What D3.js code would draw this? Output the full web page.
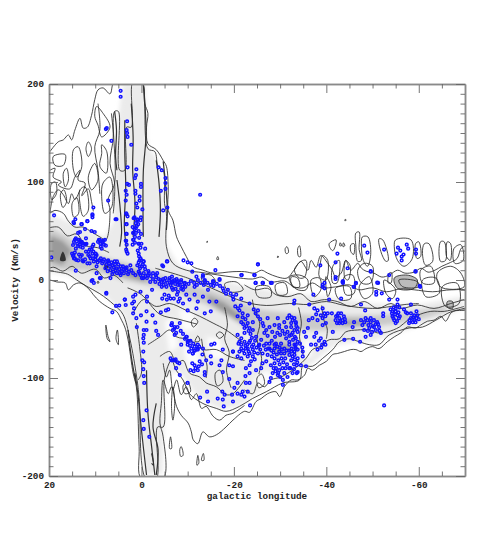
<!DOCTYPE html>
<html>
<head>
<meta charset="utf-8">
<script src="https://cdn.jsdelivr.net/npm/d3@7"></script>
<style>
body { margin: 0; background: #fff; }
text { font-family: "Liberation Mono", monospace; font-weight: bold; font-size: 9.3px; fill: #222; }
</style>
</head>
<body>
<svg id="chart" width="490" height="560"></svg>
<script>
// axis values
const xMajor = [20, 0, -20, -40, -60];
const xMinor = [15, 10, 5, -5, -10, -15, -25, -30, -35, -45, -50, -55, -65];
const yMajor = [200, 100, 0, -100, -200];
const yMinor = [190, 180, 170, 160, 150, 140, 130, 120, 110, 90, 80, 70, 60, 50, 40, 30, 20, 10,
    -10, -20, -30, -40, -50, -60, -70, -80, -90, -110, -120, -130, -140, -150, -160, -170, -180, -190];

// grey emission, [longitude, velocity]
const greyLight = [[20,68],[16,60],[12,52],[8,44],[6,60],[5.5,150],[4,200],[-0.7,200],[-1.4,135],[-3.2,125],[-5,75],[-5.5,35],[-8,15],[-14,4],[-22,-6],[-32,-14],[-40,-17],[-50,-24],[-60,-25],[-69,-17],[-70,-28],[-64,-40],[-58,-50],[-50,-62],[-42,-66],[-37,-85],[-32,-98],[-26,-112],[-21,-129],[-17,-132],[-12,-118],[-8,-92],[-5,-100],[-4.6,-198],[-0.5,-198],[0.6,-118],[2.4,-60],[4,-35],[8,-15],[12,-6],[16,5],[20,8]];
const greyMid = [[20,54],[16,44],[12,30],[7,22],[2,16],[-4,6],[-10,-3],[-16,-12],[-21,-22],[-26,-30],[-32,-34],[-38,-36],[-44,-36],[-50,-36],[-56,-34],[-62,-30],[-66,-27],[-66,-32],[-62,-38],[-56,-44],[-50,-48],[-44,-50],[-38,-52],[-33,-50],[-34,-75],[-30,-80],[-26,-70],[-24,-55],[-20,-40],[-14,-25],[-8,-14],[-2,-6],[4,0],[8,6],[12,10],[16,10],[20,12]];
const greyDark = [
    [[20,46],[17,40],[15,30],[17,15],[20,20]],
    [[8,18],[4,13],[-1,5],[-1,-2],[4,4],[8,10]],
    [[-14,-15],[-18,-23],[-22,-38],[-23,-46],[-20,-40],[-15,-24]],
    [[-42,-41],[-46,-41],[-51,-42],[-50,-46],[-44,-46]],
    [[-28,-64],[-32,-67],[-33,-74],[-29,-74]]
];
const greyBlack = [
    [[17,29],[16.4,20],[17.6,20]],
    [[8,16],[7,14],[7.8,11]]
];
const greyWhite = [
    [[-5,-42],[-7,-38],[-8,-68],[-6,-74]],
    [[-9,-68],[-12,-70],[-13,-95],[-10,-95]],
    [[-14,-58],[-17,-60],[-18,-80],[-15,-80]],
    [[-8,-30],[-11,-32],[-12,-50],[-9,-52]],
    [[-27,-92],[-30,-102],[-26,-112],[-24,-102]],
    [[-35,-60],[-37,-62],[-37,-78],[-35,-80]]
];
const greyLoops = [
    [[-55.7,0],[-59.7,-1.7],[-60,-6.8],[-56.5,-6.8]],
    [[-66.2,-22],[-67.3,-22],[-67.3,-29],[-66.2,-28]],
    [[-54.7,2],[-57.5,5],[-59.7,0],[-59,-8.5],[-55.4,-8.5]]
];

// contour lines
const contourOuter = [[19.8,131],[18,141],[16.9,143],[15.8,148],[15.1,143],[14.4,153],[13.3,165],[12.6,155],[11.7,156],[10.8,168],[10.1,184],[9.4,194],[8.3,196],[6.8,190],[5.8,203],[0,203],[-0.7,180],[-1.4,170],[-1.1,156],[-1.4,139],[-3.2,133],[-4.7,122],[-5.4,116],[-5.8,95],[-5.8,71],[-6.8,61],[-7.6,44],[-8.6,34],[-9.7,24],[-11,14],[-13.3,10],[-15.5,7],[-19.8,8.5],[-22.3,8.5],[-24.5,7],[-26,10],[-27.3,7],[-29.5,3],[-31.5,2],[-33,10],[-34.5,19],[-36,10],[-36.7,20],[-37.8,13],[-38.8,25],[-40.3,17],[-41.3,10],[-42,3],[-43.2,7],[-44.2,20],[-45.3,10],[-46.8,17],[-47.6,12],[-48.6,9],[-50.3,7],[-52,3],[-53.6,5],[-55.4,10],[-57,7],[-59,8],[-60.5,12],[-62,8],[-63.5,10],[-65,14],[-66.9,18],[-68.3,22],[-69.3,33],[-71,34],[-71,-28],[-69.8,-29],[-67.5,-32],[-66.9,-34],[-65.8,-42],[-64.8,-37],[-63.3,-41],[-61.9,-42],[-60.4,-46],[-59.3,-49],[-57.5,-48],[-56.1,-54],[-54.7,-58],[-53.2,-63],[-51.4,-70],[-50,-68],[-48.6,-70],[-47.5,-73],[-46.4,-71],[-45.3,-71],[-43.9,-73],[-42.4,-75],[-41.4,-76],[-40,-83],[-38.5,-87],[-37,-92],[-36,-90],[-35.3,-97],[-33.8,-102],[-32.4,-102],[-30.9,-109],[-29.9,-119],[-29.1,-114],[-27.3,-116],[-25.9,-121],[-24.8,-124],[-23.4,-135],[-22.3,-134],[-19.8,-143],[-18.3,-150],[-16.2,-158],[-14.7,-160],[-13.3,-155],[-12.2,-167],[-11.2,-163],[-10.8,-155],[-10.1,-146],[-8.6,-138],[-7.6,-129],[-6.5,-109],[-5.8,-116],[-4.7,-102],[-4.3,-126],[-4,-146],[-4.7,-160],[-4.7,-203],[0,-203],[0.5,-170],[1.1,-109],[1.8,-95],[2.9,-61],[3.6,-48],[4.3,-41],[5.4,-32],[6.8,-29],[9,-22],[10.4,-15],[11.5,-8.5],[13.3,-3],[14.7,-5],[15.8,-10],[16.5,-3],[18.3,-2],[19.8,0],[21,0]];
const contourSecond = [[21,68],[20,68],[18.7,71],[16.9,68],[15.8,60],[14.4,54],[12.6,54],[10.8,49],[9,44],[7.7,41],[6.8,71],[7.2,82],[5.8,99],[5.8,172],[5,172],[4.7,112],[3.6,112],[3.2,156],[2.2,156],[1.8,203],[0,203],[-1.4,134],[-2.9,131],[-3.6,116],[-4.7,112],[-5,78],[-5.4,68],[-5.4,34],[-6.8,17],[-9.7,10],[-13.3,7.5],[-19.8,3],[-24,1],[-26,3],[-28,-2],[-31,-1],[-33,-7],[-35,-8],[-37,-3],[-39,-8],[-42,-7],[-45,-5],[-47,-10],[-50,-8],[-53,-12],[-56,-9],[-59,-10],[-63,-12],[-67,-10],[-71,-12],[-71,-29],[-67.2,-32],[-63.7,-41],[-60.8,-48],[-57.9,-49],[-53.6,-56],[-51.4,-66],[-49.3,-66],[-47.1,-63],[-45,-60],[-42.8,-63],[-41.4,-71],[-39.2,-80],[-37,-88],[-34.9,-88],[-34.2,-102],[-30.6,-105],[-27,-114],[-24,-121],[-21.2,-129],[-18.3,-134],[-16.2,-131],[-13.3,-126],[-10.4,-116],[-9,-102],[-7.5,-92],[-6.5,-82],[-5,-100],[-4.7,-150],[-3.5,-150],[-3.2,-203],[-1,-203],[0.5,-120],[1,-100],[2.5,-60],[4,-35],[6,-25],[9,-14],[12,-6],[14,0],[16,6],[18,8],[21,10]];

// smaller open contour pieces
const contourPieces = [
    [[19.8,112],[18.7,114],[19.1,105],[17.3,100],[18,97],[15.5,93],[14.4,105],[13.3,112],[13.7,102],[12.2,99],[12.9,86],[11.5,93],[10.8,80],[10.4,70]],
    [[19.8,68],[19.1,85],[18,92],[16.9,87],[15.8,78],[15.1,88],[14.4,82],[13.3,92]],
    [[6.5,170],[6.1,146],[6.8,119],[5.8,99],[6.1,68]],
    [[9.4,180],[9,153],[10.1,136],[9.4,112],[9,88]],
    [[21,52],[18,54],[16,45],[14,47],[12,35],[9.5,33],[7,28]],
    [[21,10],[19,13],[17,9],[15,14],[13,7],[10,11],[8,2],[6,5],[4,-3]],
    [[-4.7,-85],[-5.4,-99],[-6.1,-92],[-6.8,-112],[-7.6,-102],[-8.6,-117],[-9.7,-109],[-10.8,-122],[-11.9,-116],[-13,-131],[-14,-129],[-15.5,-139],[-16.9,-143],[-18.3,-138],[-19.8,-136],[-22.3,-128]],
    [[-4,-78],[-6.1,-73],[-7.6,-85],[-9,-82],[-10.4,-95],[-12.6,-99],[-14,-105],[-16.2,-109],[-18.3,-117],[-19.8,-116],[-22.3,-102]],
    [[-1.4,-66],[-4,-58],[-6.1,-51],[-7.6,-58],[-10.4,-61],[-13.3,-71],[-16.2,-71],[-19,-78],[-22.3,-82]],
    [[1.8,-34],[-0.4,-20],[-3.2,-27],[-6.1,-24],[-9.7,-31],[-12.6,-37],[-15.5,-44],[-18.3,-51],[-22.3,-65]],
    [[-22.3,-112],[-24.1,-116],[-25.2,-105],[-26.6,-109],[-28,-102],[-30.2,-99],[-31.7,-95],[-33.8,-88],[-35.6,-80],[-37,-71],[-38.5,-68],[-40.6,-61],[-42.8,-60],[-44.2,-53],[-46.8,-51],[-49.3,-51],[-51.1,-54],[-53.2,-53],[-55.8,-48],[-57.6,-41],[-59.7,-36],[-62.6,-32],[-65.5,-32],[-68.3,-29],[-69.8,-27]],
    [[-22.3,-5],[-24.5,-10],[-27.3,-8.5],[-29.1,-15],[-31.7,-17],[-34.5,-14],[-36.7,-22],[-39.6,-20],[-42.4,-22],[-45.3,-27],[-48.2,-22],[-51.1,-29],[-54,-24],[-56.1,-29],[-59.7,-25.5],[-63.3,-29],[-66.9,-24],[-69.8,-20]],
    [[-3,12],[-10,2],[-16,-10],[-22,-22],[-27,-26],[-32,-24],[-36,-25],[-40,-22],[-44,-26],[-50,-29],[-54,-27],[-57,-25],[-60,-24]],
    [[3,-8],[0,-15],[-4,-35],[-8,-40],[-12,-45]],
    [[-24,-20],[-24.6,-34],[-25.6,-44],[-25,-60],[-26,-80],[-25.4,-96]],
    [[-34,-28],[-34.6,-44],[-34.2,-58],[-35,-76]],
    [[-39,-26],[-39.4,-40],[-40.2,-50],[-40,-60]],
    [[-18,-28],[-18.6,-46],[-18,-60],[-19,-74],[-18.4,-92],[-19.4,-110]],
    [[-13,-60],[-13.4,-72],[-14.2,-88],[-14,-100]],
    [[1.1,-44],[0.4,-68],[0,-95],[0.7,-102]]
];

// closed contour islands
const islands = [
    [[11.5,141],[10.8,134],[11.5,126],[12,134]],
    [[14.7,133],[13.7,136],[12.9,116],[14,105],[14.7,112]],
    [[9.7,177],[8.3,170],[6.8,156],[8.6,146],[9.4,158],[10.1,167]],
    [[8.6,138],[7.5,131],[7.6,109],[9,116],[8.6,129]],
    [[10.1,119],[9.4,102],[10.8,92],[11.5,105]],
    [[19.1,126],[16.5,128],[16.9,117],[18.7,117]],
    [[16.2,114],[15.8,102],[16.5,95],[16.9,109]],
    [[13.3,92],[12.2,95],[11.5,71],[12.6,65],[13.3,78]],
    [[8.3,99],[6.8,105],[6.4,75],[7.9,68],[8.6,85]],
    [[17.5,88],[16.8,92],[16.2,80],[17,74]],
    [[19.5,98],[18.6,100],[18.4,88],[19.4,82]],
    [[15,78],[14,84],[13.6,68],[14.6,64]],
    [[7.7,-46],[7.2,-58],[6.8,-63],[7.4,-60]],
    [[5.2,-51],[5,-66],[5.5,-60]],
    [[-6.3,-160],[-6.5,-172],[-6.1,-172]],
    [[-8.6,-170],[-9,-179],[-8.5,-180],[-8.3,-173]],
    [[-12.2,-179],[-12.4,-187],[-12,-189]],
    [[-13.4,-177],[-13.5,-184],[-13,-184]],
    [[-6.8,-109],[-7.2,-126],[-6.8,-143],[-6.5,-129]],
    [[-11.5,-39],[-12.2,-42.5],[-11.2,-48],[-10.8,-42.5]],
    [[-16.9,-53],[-17.8,-56],[-16.9,-59.5],[-16.2,-56]],
    [[-12.2,-57],[-12.6,-62],[-11.6,-63]],
    [[-16,-95],[-17,-92],[-17.6,-104],[-16.4,-108]],
    [[-9,-108],[-10,-104],[-10.6,-114],[-9.4,-116]],
    [[-25,-100],[-26,-96],[-26.6,-106],[-25.4,-110]],
    [[-31.5,34],[-31.8,28],[-31.3,27],[-31.1,32]],
    [[-34.2,35],[-34.4,24],[-34,24],[-33.8,32]],
    [[-40.6,37],[-42.1,41],[-41.9,34],[-41.4,30],[-40.9,32]],
    [[-43,38],[-43.3,35],[-42.9,35]],
    [[-43.7,38],[-44,35],[-43.6,34]],
    [[-46.4,48],[-47.1,49],[-47.1,31],[-47.6,20],[-46.8,19],[-46.4,34]],
    [[-45.3,36],[-46,37],[-45.9,26],[-45.3,29]],
    [[-47.8,44],[-49,44],[-49.6,26],[-48.9,14],[-48,20],[-47.6,34]],
    [[-51.4,42],[-52.2,41],[-53.4,20],[-52.9,19],[-51.8,29]],
    [[-55,41],[-58.3,41],[-58.6,22],[-56.8,14],[-55.4,20],[-54.7,34]],
    [[-59.3,37],[-60,39],[-60.4,24],[-59.6,22]],
    [[-61.2,37],[-62.2,37],[-63,19],[-61.5,15],[-60.8,27]],
    [[-64.7,39],[-65.5,39],[-65.8,20],[-64.7,19]],
    [[-66.2,39],[-66.9,37],[-66.8,20],[-66,24]],
    [[-67.6,32],[-69.1,36],[-69.6,20],[-67.8,17]],
    [[-34.5,19],[-35.6,20],[-35.3,3],[-34.2,2],[-33.1,10]],
    [[-39.2,25],[-40.3,20],[-39.9,0],[-38.5,3],[-38.7,17]],
    [[-41.4,14],[-42.8,20],[-42.3,-3],[-41.4,-3]],
    [[-44.2,20],[-45.2,14],[-44.7,0],[-44,2]],
    [[-46.8,10],[-48.2,17],[-50,14],[-49.6,-3],[-47.6,-3]],
    [[-53.6,7],[-54.1,7.5],[-54,-3],[-53.4,-3]],
    [[-54.7,2],[-57.5,5],[-59.7,0],[-59,-8.5],[-55.4,-8.5]],
    [[-60.4,10],[-62.6,14],[-63.3,-3],[-60.8,-3]],
    [[-64,7],[-66.9,14],[-69.1,7],[-69.8,-7],[-64.7,-7]],
    [[-32.4,3],[-33.8,2],[-34.2,-7],[-32.7,-7]],
    [[-32,3],[-34.2,5],[-36,0],[-35.6,-10],[-33.4,-9]],
    [[-36.7,0],[-38.5,2],[-38.8,-10],[-37.4,-17]],
    [[-39.9,3.4],[-41,-7],[-40.3,-17]],
    [[-43.9,3.4],[-45.7,5],[-46,-13.6],[-44.2,-15]],
    [[-47.1,-7],[-49.3,3.4],[-50,-13.6],[-48.2,-19]],
    [[-52.5,0],[-55,-10],[-54.3,-19],[-52.9,-13.6]],
    [[-55.7,0],[-59.7,-1.7],[-60,-6.8],[-56.5,-6.8]],
    [[-60.8,0],[-63.7,2],[-64.4,-13.6],[-61.5,-17]],
    [[-65.1,-6.8],[-68.3,-3.4],[-68.7,-24],[-65.8,-27]],
    [[-66.2,-22],[-67.3,-22],[-67.3,-29],[-66.2,-28]],
    [[-42,-8.5],[-45,-6.8],[-45.3,-18.7],[-42.8,-20]],
    [[-24.8,-7],[-27.7,-7],[-28,-17],[-25.2,-17]],
    [[-18,-4],[-20.5,-2],[-22,-10],[-19,-12]],
    [[-13,4],[-15,5],[-16,-2],[-13.5,-3]],
    [[-29,-5],[-31,-3],[-31.5,-14],[-29.5,-15]],
    [[-44.1,62],[-44.3,61],[-44,60.5]],
    [[-29.5,24.5],[-29.7,23.5],[-29.4,23]],
    [[-14.2,39.5],[-14.4,39],[-14.1,38.5]],
    [[-16.5,24],[-16.7,21],[-16.3,21]],
    [[9.4,-1],[9.6,-3],[9.2,-3]]
];

// dark vertical streaks near l=0
const streaks = [
    [[5.8,172],[5.4,153],[5.6,126],[5.3,112]],
    [[3.6,163],[3.6,129],[3.4,95],[3.7,54],[3.2,31]],
    [[2.2,180],[1.8,146],[1.9,112],[1.4,78],[1.8,44]],
    [[5.3,102],[4.7,78],[4.3,48],[4.7,34]],
    [[-4.7,121],[-5.2,99],[-5.6,71],[-5.4,51]],
    [[-3.2,122],[-3.8,99],[-4.1,71],[-3.8,44]],
    [[-0.4,200],[-1,150],[-0.4,110],[-0.4,44]],
    [[1.4,-95],[0.7,-119],[0,-153],[-1.1,-199]],
    [[-1.1,-92],[-1.4,-136],[-2.2,-170],[-2.9,-199]],
    [[2.9,-51],[2.2,-78],[1.2,-105]],
    [[-3.2,-126],[-2.5,-150],[-3.6,-173],[-3.2,-199]],
    [[-2.2,-177],[-2.6,-189],[-2.2,-187]]
];

// catalogue sources, [longitude, velocity]
const pointsUpper = [[4.5,193],[4.5,187],[7.7,154],[7.5,155],[6.5,142],[3.1,162],[3.2,153],[3.1,150],[3,146],[2.2,138],[3,115],[1.1,113],[1.2,107],[1.4,104],[3.1,98],[2.7,97],[0.1,98],[0.1,95],[3.4,91],[3.2,87],[1.3,91],[1.3,88],[0.4,85],[0.4,81],[3.4,81],[1.1,78],[0.9,74],[-0.2,72],[-3.7,115],[-4.4,112],[-5.2,104],[-5.2,99],[-5.2,93],[-4.2,91],[-5.6,74],[-4.7,71],[-12.7,87],[7.2,81],[10.4,74],[10.6,67],[10.6,64],[18.9,66],[14.3,62],[14.7,59],[11.7,60],[12.9,57],[5.4,62],[3.2,67],[3,65],[3.2,57],[1.5,64],[0.9,62],[0.1,64],[1.2,58],[0.7,57],[1.9,54],[1.2,53],[3.2,47],[1.8,48],[1.4,44],[3.4,40],[1.8,41],[3.2,36],[1.9,36],[0.5,37],[0,37],[-0.8,32],[3.2,29],[3,27]];
const pointsLeft = [[19.5,23],[13.3,49],[13.7,48],[12.2,52],[10.8,50],[10.1,49],[14.4,41],[13.7,41],[12.9,39],[12,42.5],[11.9,37],[13.3,36],[9,41],[8.4,38],[7.9,41],[10.4,36],[11.2,31],[12,29],[10.4,29],[9.7,25.5],[14.7,25.5],[14.4,22],[13.7,20],[12.9,25.5],[12.6,19],[11.2,17],[9.7,14],[9,20],[8.3,19],[7.2,20],[6.8,14],[5.8,19],[5.4,12],[4,14],[3.2,10],[4.7,7],[6.1,8.5],[10.8,-1],[9,2],[14.2,9.5],[9.7,7],[0.4,20],[-0.4,19],[0.4,14],[-0.7,14],[-4.7,14],[-5.6,19],[-9.1,20],[-10,18],[-10.8,17],[-11,8.5],[-16,10],[-21.7,5],[-13.7,-1],[-15.5,-1],[-16.9,1],[-11.9,3.4],[-13.3,3.4],[0.4,7],[-0.4,2],[-1.4,5],[-2.5,7],[-3.2,3],[-4.7,1],[-6.1,2],[-6.8,-1],[-7.6,1],[-8.6,-2],[-9.4,-3],
    [14.6,39],[13.9,37],[13.2,39],[12.4,37],[12.1,36],[13.2,34],[14.2,32],[10.6,34],[9.2,41],[8.5,39],[8.1,36],[8.8,34],[15,27],[14.6,22],[13.5,26],[12.8,20],[11.4,29],[10.6,27],[9.9,24],[11,22],[10.3,19],[11.7,17],[9.2,20],[8.5,17],[7.4,19],[6.3,15],[5.3,19],[4.5,14],[6.7,10],[7.8,12],[3.5,12],[2.7,8.5],[5.6,10],[3.8,7],[4.5,5],[2.4,15],[10.6,0],[10.3,-3],[8.8,2],[6.7,2],[0.6,27],[0.2,22],[-0.5,19],[0.9,15],[-0.1,14],[0.6,8.5],[-0.5,7],[1.3,5],[-1.2,2],[-1.9,-2],[-0.1,2],[-3,-2],[-4.1,0],[-5.2,2],[-6.6,3.4],[-4.8,-5],[-6.3,-5],[-7.7,-2],[-3.4,7],[-1.6,7],[-5.5,19],[-4.5,15],[-4.5,-19],[-5.5,-20],[-6.3,-19],[-7.7,-15],[-2.3,-10],[-1.2,-17],[-1.2,-22],[0.2,-12],[1.3,-15],[2,-24],[3.6,-20],[7.6,-13],[10.6,66],[14.6,58],[11.7,60],[13,57],[5.6,62],[3.3,68],[3.3,57],[3.3,47],[3.3,40],[3.3,31],[1.7,63],[0.9,61],[0.2,61],[1.7,48],[1.7,41],[0.6,37]];
const pointsDiagonal = [[-6.5,-3],[-7.2,0],[-7.9,-5],[-8.6,0],[-9.3,-3.4],[-6.8,-10],[-7.9,-12],[-9,-10],[-9.7,-15],[-8.3,-19],[-9,-24],[-10,-31],[-11.5,-7],[-12.2,0],[-13.3,5],[-13.7,0],[-14.4,-10],[-15.5,-2],[-16.9,0],[-17.6,-8.5],[-18.3,-14],[-11.5,-15],[-10.4,-20],[-12.2,-22],[-13.3,-17],[-14.7,-22],[-16.2,-22],[-11.9,-29],[-13.7,-34],[-15,-32],[-19.8,-17],[-20.5,-15],[-21.6,-19],[-21.2,-31],[-21.9,-34],[-23,-36],[-20.8,-37],[-21.6,-43],[-23,-44],[-22.3,-49],[-23.4,-49],[-24.1,-43],[-25.2,-31],[-23.4,-24],[-21.6,5],[-24.4,5],[-24.7,-3],[-26.2,-3],[-28,-3],[-25.2,16],[-26.2,-44],[-27.3,-39],[-27.7,-48],[-27,-51],[-28.8,-46],[-29.8,-46],[-29.5,-39],[-30.9,-43],[-31.6,-39],[-32.7,-41],[-31.3,-48],[-32.4,-48],[-33.4,-44],[-33.8,-53],[-33,-24],[-31.3,-59.5],[-29.8,-49],[-20.8,-56],[-21.6,-59.5],[-22.3,-63],[-21.6,-66],[-23,-70],[-21.2,-73],[-24.8,-58],[-25.9,-61],[-26.6,-54],[-27.7,-65],[-29.1,-65],[-28.8,-70],[-30.2,-65],[-30.9,-70],[-32,-66],[-33.4,-66],[-33.8,-71],[-29.8,-73],[-24.1,-71],[-26.2,-75],[-27.3,-76.5],[-6.5,-46],[-7.2,-48],[-7.5,-54],[-9.7,-58],[-10,-66],[-11.5,-68],[-11.1,-75],[-15,-78],[-17.6,-71],[-19.8,-73]];
const pointsLower = [[-8.6,-66],[-10,-63],[-10.8,-70],[-11.1,-75],[-12.2,-71],[-13.3,-70],[-6.5,-82],[-7.2,-82],[-7.5,-90],[-8.3,-97],[-10,-105],[-11.5,-87],[-12.6,-83],[-14,-82],[-15.1,-85],[-12.2,-92],[-13.7,-94],[-13.7,-97],[-14.2,-114],[-12.7,-120],[-14.4,-124],[-16.5,-121],[-17.6,-122],[-17.5,-114],[-18,-117],[-17.8,-129],[-19.6,-117],[-19.8,-124],[-20.1,-110],[-20.8,-105],[-20.8,-116],[-21.9,-114],[-23,-114],[-22.3,-119],[-21.6,-117],[-23.5,-128],[-19,-101],[-22.6,-105],[-23.4,-105],[-22.5,-98],[-23.4,-95],[-24.8,-92],[-22.6,-90],[-23.4,-87],[-17.3,-82],[-16.9,-87],[-17.6,-94],[-15.1,-66],[-15.8,-65],[-12.2,-66],[-19,-87],[-19.8,-88],[-20.8,-78],[-21.6,-80],[-21.2,-63],[-22.6,-70],[-23.4,-75],[-23.7,-83],[-22.3,-75],[-19.8,-73],[-26.2,-85],[-27,-83],[-25.9,-90],[-28,-87],[-28.8,-85],[-29.1,-90],[-29.8,-92],[-28.4,-95],[-28,-100],[-29.5,-97],[-30.6,-102],[-30.6,-107],[-30.9,-95],[-32,-90],[-31.6,-99],[-32.7,-95],[-33.8,-94],[-27.7,-104],[-30.2,-75],[-30.9,-75],[-32,-76.5],[-33.1,-73],[-33.8,-80],[-25.2,-75],[-28.8,-66],[-27,-65],[-25.5,-66]];
const pointsRight = [[-32,-36],[-33.1,-39],[-32.4,-44],[-33.4,-43],[-33.1,-51],[-33.8,-49],[-32.4,-56],[-33.4,-59.5],[-32,-63],[-33.1,-66],[-32.4,-73],[-33.1,-76.5],[-32.2,-90],[-33.6,-95],[-34.9,-73],[-34.9,-78],[-34.5,-87],[-35.6,-88],[-35.2,-53],[-36,-49],[-35.6,-58],[-37,-39],[-38.1,-41],[-39.2,-39],[-38.1,-31],[-39.2,-29],[-36.3,-25],[-37.4,-29],[-33.1,-21],[-37.2,-15],[-39.2,-5],[-39.6,-8.5],[-42,3],[-43.5,-2],[-46,-7],[-46.4,-3.4],[-40.6,-20],[-43.2,-19],[-41.2,-34],[-42.4,-36],[-43.2,-34],[-42.8,-39],[-43.5,-41],[-42,-41],[-42.8,-44],[-43.5,-44],[-39.6,-34],[-40.3,-34],[-39.9,-44],[-41.4,-53],[-39.2,-46],[-38.8,-59.5],[-39.6,-63],[-37.8,-54],[-37.4,-58],[-36.7,-66],[-38.1,-71],[-39.8,-66],[-43.9,-61],[-45.8,-60],[-47.3,-63],[-45.7,-48],[-46,-43],[-47.5,-25],[-48.4,-31],[-47.5,-41],[-47.8,-46],[-48.5,-39],[-48.2,-51],[-49.3,-49],[-49.6,-43],[-50.3,-41],[-51,-43],[-50.3,-48],[-51.4,-48],[-50.7,-51],[-49.6,-56],[-48.5,-58],[-51.8,-54],[-48.2,-43],[-49.1,-46],[-52.3,-34],[-52.3,-37],[-50.8,-15],[-50.8,-12],[-52,-13.6],[-51,-2.7],[-49.6,8.5],[-53.6,-20],[-55.4,-20],[-55.4,-25],[-55,-29],[-54.3,-32],[-55,-32],[-54.3,-37],[-55.4,-36],[-54.7,-41],[-55.7,-39],[-55,-44],[-56.8,-30],[-57.5,-34],[-58.3,-34],[-59,-36],[-59.7,-36],[-58.3,-39],[-59,-41],[-59.3,-43],[-57.9,-44],[-58.3,-25],[-60.2,-6],[-59.3,8.5],[-53.6,5]];
const pointsTopRight = [[-25.2,16],[-24.5,5],[-24.7,-3],[-26.3,-3],[-28.2,-3],[-38.7,15],[-42.4,27],[-42,18],[-44.6,12],[-49.6,9],[-48.2,35],[-48.9,28],[-52.5,31],[-55.5,33],[-56,30],[-55.2,27],[-56.7,26],[-56.3,24],[-56.3,20],[-57.4,36],[-57.7,32],[-59.4,31],[-59.4,27],[-59.3,9],[-39.6,-3],[-39.2,-7],[-42,1],[-43.6,-1],[-43.6,-3],[-46.4,-3],[-45.9,-7],[-51.2,-3],[-60.3,-7],[-52.5,-128]];
const pointsSpike = [[7.6,-14],[5.5,-26.5],[4.8,-26],[3.6,-20],[3.4,-25.5],[6.3,-33],[1.8,-17],[1.6,-22],[1.6,-29],[1.8,-34],[1.1,-39],[0.1,-36],[-1.1,-32],[-1.1,-42.5],[-3,-43.5],[-2.4,-36],[-4.2,-33],[-5.3,-31],[-5.8,-30],[1,-48],[-0.5,-51],[-1.1,-51],[-3.2,-52],[-3.6,-56],[-0.5,-56],[-0.4,-59.5],[-0.5,-64],[-0.4,-73],[-0.2,-82],[-0.6,-84],[-0.4,-91],[-0.5,-98],[-0.6,-105],[-1.1,-133],[-0.4,-143],[-0.5,-152],[-1.7,-160],[-6.5,-46],[-6.8,-51],[-7.2,-56],[-8.3,-44]];
// the densest clumps, read a second time
const pointsClumpA = [[14.2,42.5],[13.5,41],[12.8,37.4],[14.8,35.7],[13.7,34.7],[12.7,33],[14.4,28],[14.8,24.4],[14.1,20.4],[13.2,23.8],[12.2,21],[11.5,25.5],[10.8,31],[9.9,27],[9.4,39],[8.9,37],[8.3,40],[8.6,32],[7.7,35],[11.2,24],[10.5,22],[10,21],[9.5,18],[8.8,22],[8.1,21],[7.6,16],[7,17],[6.5,18],[6,13],[5.7,16],[5,16],[4.8,11],[4.2,9],[3.9,11],[3.2,13],[2.9,6],[2.2,10],[1.8,7],[7.3,9],[6.3,6],[5.3,7],[1,55],[0.6,50],[1.2,48],[0.1,47],[0.5,43],[1.4,38],[0.8,30],[0.2,33],[1.5,52]];
const pointsClumpB = [[0.5,24],[0,20],[-0.3,16],[0.6,18],[0.3,12],[-0.8,11],[0.2,5],[-0.9,4],[-1.5,9],[-2,4],[-2.5,1],[-3.1,5],[-3.7,1],[-4.3,-2],[-5,-1],[-5.6,-3],[-6,0],[-6.7,-2],[-7.3,-4],[-7.9,-1],[-8.3,-5],[-8.9,-7],[-3.9,-4],[-4.4,-7],[-5.4,-7],[-6.6,-8],[-7.4,-9],[-8.6,-9],[-9.5,-7],[-10.2,-4],[-10.7,-1],[-11.4,-3],[-12,-5],[-12.8,-3],[-13.5,-5],[-14.3,-3],[-15,-5],[-15.6,-6],[-16.3,-4],[-17,-6],[-17.8,-11],[-18.7,-10],[-19.3,-14],[-19.9,-20],[-5,-15],[-5.9,-16],[-7,-19],[-8,-22]];
const pointsClumpC = [[-20.3,-27],[-20.9,-29],[-21.5,-26],[-21.9,-38],[-22.5,-40],[-22,-45],[-22.7,-47],[-23.2,-52],[-22.3,-54],[-23.6,-55],[-24.1,-51],[-23.9,-59],[-24.6,-62],[-23.5,-62],[-24.2,-66],[-24.9,-69],[-25.4,-67],[-22.5,-67],[-23.2,-73],[-24.4,-74],[-25.7,-71],[-26.5,-67],[-26.9,-71],[-27.4,-70],[-28.2,-62],[-28.9,-58],[-29.4,-54],[-30,-56],[-30.5,-52],[-31,-55],[-31.6,-53],[-32,-57],[-32.7,-54],[-33.2,-58],[-28.3,-53],[-27.3,-57],[-26.4,-47],[-25.7,-40],[-25.2,-37],[-24.7,-34],[-24.3,-30],[-29.4,-68],[-29.9,-69],[-30.4,-71],[-31.4,-72],[-31.9,-72],[-32.5,-70],[-33.3,-69]];
const pointsClumpD = [[-21,-65],[-21.6,-70],[-22,-72],[-22.9,-66],[-23.3,-64],[-23.9,-68],[-23,-78],[-24.1,-78],[-24.5,-81],[-27.7,-70],[-28.1,-72],[-28.6,-74],[-28.2,-78],[-28.8,-80],[-29.3,-76],[-29.6,-82],[-29.9,-86],[-30.3,-80],[-30.7,-84],[-31.1,-80],[-31.5,-86],[-31.2,-90],[-30.5,-90],[-29.6,-95],[-30,-99],[-29,-93],[-28.6,-90],[-32.4,-82],[-33,-86],[-33.6,-87],[-33,-91],[-6.6,-44],[-7.1,-50],[-7.8,-48],[-8.5,-52],[-9,-55],[-9.4,-60],[-10.6,-62],[-11.4,-72],[-10.3,-73],[-9.8,-58],[-10.2,-62],[-10.5,-67],[-11.2,-65],[-11.6,-72],[-12.1,-70],[-12.5,-68],[-13.2,-76],[-11,-85],[-11.7,-90],[-12.4,-88],[-13.1,-86],[-10.6,-92],[-11.3,-93],[-6.3,-80],[-6.9,-82],[-7.4,-81],[-7.8,-84],[-8.2,-85]];
const pointsClumpE = [[-32.5,-38],[-33.5,-47],[-32.8,-61],[-33.8,-63],[-33.4,-70],[-32.7,-78],[-33.2,-81],[-33.7,-84],[-34.3,-65],[-34.8,-69],[-36.2,-41],[-37.8,-35],[-38.8,-36],[-39.8,-37],[-38.4,-62],[-39.1,-66],[-37.7,-66],[-38.9,-69],[-42.1,-37],[-42.6,-34],[-43.8,-37],[-44,-40],[-43,-42],[-42.3,-44],[-44.1,-43],[-48.9,-41],[-49.6,-39],[-50.7,-45],[-50,-47],[-51.2,-45],[-49,-52],[-49.9,-53],[-51.5,-52],[-54.6,-28],[-55.8,-28],[-54.2,-34],[-54.9,-35],[-55.6,-33],[-53.9,-30],[-54.5,-39],[-55.3,-42],[-55.9,-37],[-57.2,-33],[-58.8,-38],[-59.5,-39],[-60,-40],[-58.7,-43],[-58,-41],[-59.5,-32]];

const x = d3.scaleLinear().domain([20, -70]).range([49, 465]);
const y = d3.scaleLinear().domain([-200, 200]).range([476, 84]);

const svg = d3.select("#chart");

svg.append("defs").append("clipPath")
    .attr("id", "plot-clip")
    .append("rect")
    .attr("x", 49).attr("y", 84)
    .attr("width", 416).attr("height", 392);

const blur = svg.select("defs").append("filter")
    .attr("id", "soft")
    .attr("x", "-20%").attr("y", "-20%")
    .attr("width", "140%").attr("height", "140%");
blur.append("feGaussianBlur").attr("stdDeviation", 2);

const closedLine = d3.line().x(d => x(d[0])).y(d => y(d[1])).curve(d3.curveLinearClosed);
const loopLine = d3.line().x(d => x(d[0])).y(d => y(d[1])).curve(d3.curveCatmullRomClosed.alpha(0.5));
const openLine = d3.line().x(d => x(d[0])).y(d => y(d[1])).curve(d3.curveCatmullRom.alpha(0.5));

const plot = svg.append("g").attr("clip-path", "url(#plot-clip)");

// grey image
const grey = plot.append("g").attr("filter", "url(#soft)");
grey.append("path").attr("d", closedLine(greyLight)).attr("fill", "#ebebeb");
grey.append("path").attr("d", closedLine(greyMid)).attr("fill", "#cacaca");
grey.selectAll(".dark")
    .data(greyDark)
    .enter().append("path")
    .attr("class", "dark")
    .attr("d", closedLine)
    .attr("fill", "#9a9a9a");
grey.selectAll(".white")
    .data(greyWhite)
    .enter().append("path")
    .attr("class", "white")
    .attr("d", closedLine)
    .attr("fill", "#fbfbfb");
plot.selectAll(".black")
    .data(greyBlack)
    .enter().append("path")
    .attr("class", "black")
    .attr("d", loopLine)
    .attr("fill", "#333");
plot.selectAll(".loopfill")
    .data(greyLoops)
    .enter().append("path")
    .attr("class", "loopfill")
    .attr("d", loopLine)
    .attr("fill", "#bbb");

// contours
const contours = plot.append("g")
    .attr("fill", "none")
    .attr("stroke", "#2a2a2a")
    .attr("stroke-width", 0.85)
    .attr("stroke-linejoin", "round");

contours.selectAll(".level")
    .data([contourOuter, contourSecond].concat(contourPieces))
    .enter().append("path")
    .attr("class", "level")
    .attr("d", openLine);

contours.selectAll(".island")
    .data(islands)
    .enter().append("path")
    .attr("class", "island")
    .attr("d", loopLine);

contours.selectAll(".streak")
    .data(streaks)
    .enter().append("path")
    .attr("class", "streak")
    .attr("d", openLine)
    .attr("stroke", "#333")
    .attr("stroke-width", 1.2);

// sources
const allPoints = [].concat(pointsUpper, pointsLeft, pointsDiagonal, pointsLower, pointsRight, pointsTopRight, pointsSpike,
    pointsClumpA, pointsClumpB, pointsClumpC, pointsClumpD, pointsClumpE);
svg.append("g")
    .selectAll("circle")
    .data(allPoints)
    .enter().append("circle")
    .attr("cx", d => x(d[0]))
    .attr("cy", d => y(d[1]))
    .attr("r", 1.35)
    .attr("fill", "none")
    .attr("stroke", "#1212ff")
    .attr("stroke-width", 1.5);

// axes, ticks point inward
const fmt = d => String(d);

function addAxis(axisFn, scale, values, size, pos, labelled) {
    const axis = axisFn(scale)
        .tickValues(values)
        .tickSizeInner(-size)
        .tickSizeOuter(0)
        .tickPadding(labelled ? 5 : 0)
        .tickFormat(labelled ? fmt : "");
    const g = svg.append("g").attr("transform", `translate(${pos[0]},${pos[1]})`).call(axis);
    g.select(".domain").attr("stroke", "#8a8a8a").attr("stroke-width", 1.5);
    g.selectAll(".tick line").attr("stroke", "#666").attr("stroke-width", 0.9);
    g.selectAll(".tick text").style("font-family", "'Liberation Mono', monospace").style("font-size", "9.3px").attr("fill", "#222");
    return g;
}

addAxis(d3.axisBottom, x, xMajor, 9, [0, 476], true);
addAxis(d3.axisBottom, x, xMinor, 4.5, [0, 476], false);
addAxis(d3.axisTop, x, xMajor, 9, [0, 84], false);
addAxis(d3.axisTop, x, xMinor, 4.5, [0, 84], false);
addAxis(d3.axisLeft, y, yMajor, 9, [49, 0], true);
addAxis(d3.axisLeft, y, yMinor, 4.5, [49, 0], false);
addAxis(d3.axisRight, y, yMajor, 9, [465, 0], false);
addAxis(d3.axisRight, y, yMinor, 4.5, [465, 0], false);

svg.append("text")
    .attr("x", 257).attr("y", 499)
    .attr("text-anchor", "middle")
    .text("galactic longitude");

svg.append("text")
    .attr("transform", "translate(18,280) rotate(-90)")
    .attr("text-anchor", "middle")
    .text("Velocity (Km/s)");
</script>
</body>
</html>
